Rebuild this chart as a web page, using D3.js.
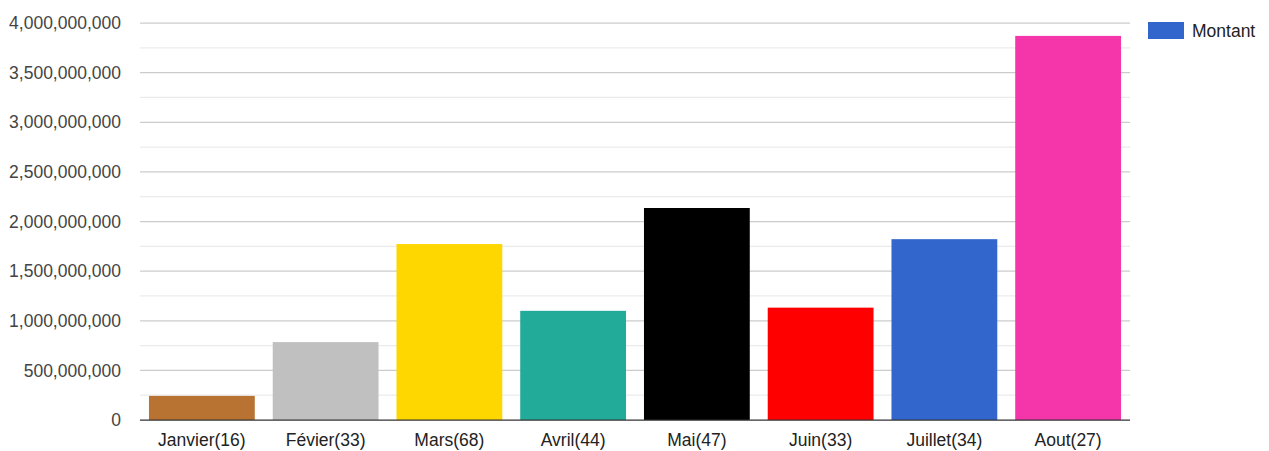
<!DOCTYPE html>
<html>
<head>
<meta charset="utf-8">
<script src="https://cdn.jsdelivr.net/npm/d3@7"></script>
<style>
  body { margin: 0; background: #fff; }
  svg text { font-family: "Liberation Sans", Arial, sans-serif; }
</style>
</head>
<body>
<svg id="chart" width="1269" height="451"></svg>
<script>
// data
var months = ["Janvier(16)", "Févier(33)", "Mars(68)", "Avril(44)", "Mai(47)", "Juin(33)", "Juillet(34)", "Aout(27)"];
var montant = [243000000, 785000000, 1773000000, 1100000000, 2136000000, 1132000000, 1822000000, 3870000000];
var barColors = ["#b87333", "#c0c0c0", "#ffd700", "#22ab99", "#000000", "#ff0000", "#3366cc", "#f535aa"];
var yTicks = [0, 500000000, 1000000000, 1500000000, 2000000000, 2500000000, 3000000000, 3500000000, 4000000000];
var seriesName = "Montant";

var svg = d3.select("#chart");
var plotLeft = 140, plotRight = 1130, plotTop = 23, plotBottom = 420;

var x = d3.scaleBand()
    .domain(months)
    .range([plotLeft, plotRight])
    .paddingInner(0.145)
    .paddingOuter(0.0725);

var y = d3.scaleLinear()
    .domain([0, 4000000000])
    .range([plotBottom, plotTop]);

var fmt = d3.format(",");

// minor gridlines
svg.append("g")
  .selectAll("line")
  .data(d3.range(250000000, 4000000000, 500000000))
  .enter().append("line")
    .attr("x1", plotLeft).attr("x2", plotRight)
    .attr("y1", function(d){ return y(d); })
    .attr("y2", function(d){ return y(d); })
    .attr("stroke", "#ebebeb")
    .attr("stroke-width", 1.25);

// major gridlines
svg.append("g")
  .selectAll("line")
  .data(yTicks.slice(1))
  .enter().append("line")
    .attr("x1", plotLeft).attr("x2", plotRight)
    .attr("y1", function(d){ return y(d); })
    .attr("y2", function(d){ return y(d); })
    .attr("stroke", "#cccccc")
    .attr("stroke-width", 1.25);

// y labels
svg.append("g")
  .selectAll("text")
  .data(yTicks)
  .enter().append("text")
    .attr("x", 121)
    .attr("y", function(d){ return y(d); })
    .attr("dy", "0.35em")
    .attr("text-anchor", "end")
    .attr("font-size", "17.5px")
    .attr("fill", "#444")
    .text(function(d){ return fmt(d); });

// bars
svg.append("g")
  .selectAll("rect")
  .data(montant)
  .enter().append("rect")
    .attr("x", function(d, i){ return x(months[i]); })
    .attr("y", function(d){ return y(d); })
    .attr("width", x.bandwidth())
    .attr("height", function(d){ return y(0) - y(d); })
    .attr("fill", function(d, i){ return barColors[i]; });

// baseline
svg.append("line")
  .attr("x1", plotLeft).attr("x2", plotRight)
  .attr("y1", y(0)).attr("y2", y(0))
  .attr("stroke", "#333")
  .attr("stroke-width", 1.25);

// x labels
svg.append("g")
  .selectAll("text")
  .data(months)
  .enter().append("text")
    .attr("x", function(d){ return x(d) + x.bandwidth() / 2; })
    .attr("y", 446)
    .attr("text-anchor", "middle")
    .attr("font-size", "17.5px")
    .attr("fill", "#222")
    .text(function(d){ return d; });

// legend
var legend = svg.append("g");
legend.append("rect")
  .attr("x", 1148).attr("y", 22)
  .attr("width", 36).attr("height", 17)
  .attr("fill", "#3366cc");
legend.append("text")
  .attr("x", 1192).attr("y", 31)
  .attr("dy", "0.35em")
  .attr("font-size", "17.5px")
  .attr("fill", "#222")
  .text(seriesName);
</script>
</body>
</html>
